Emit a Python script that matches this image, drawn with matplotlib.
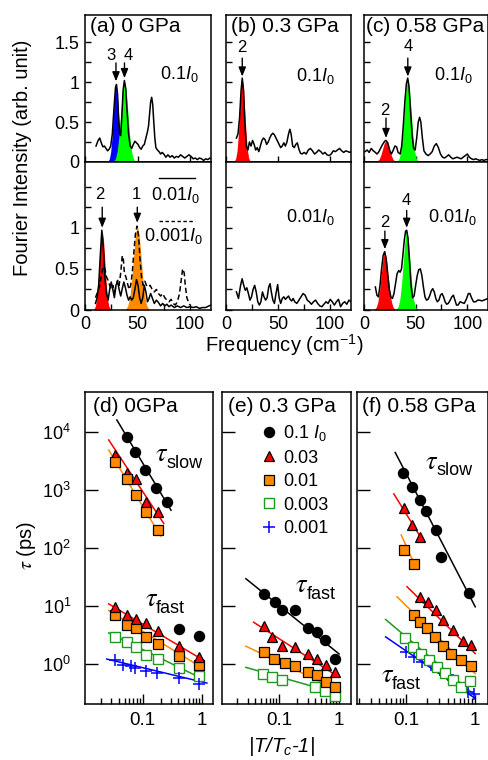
import matplotlib
matplotlib.use("Agg")
import matplotlib.pyplot as plt
from matplotlib.lines import Line2D
from matplotlib.ticker import FixedLocator, NullLocator, LogLocator, NullFormatter

plt.rcParams['font.family'] = ['Liberation Sans', 'DejaVu Sans']
plt.rcParams['mathtext.fontset'] = 'custom'
plt.rcParams['mathtext.rm'] = 'Liberation Sans'
plt.rcParams['mathtext.it'] = 'Liberation Sans:italic'
plt.rcParams['mathtext.bf'] = 'Liberation Sans:bold'
plt.rcParams['axes.linewidth'] = 1.1

# ---------------- spectra (Fourier intensity vs frequency, cm-1) ----------------
a_hi_f = [10.5, 12.5, 14, 15.5, 17, 18.5, 20, 21.5, 23, 24.5, 26, 27.5, 29, 30, 31, 32, 33, 34, 35,
          36.3, 37.5, 38.8, 40, 41.5, 43, 44.5, 46, 47.5, 49, 50.5, 52, 53.5, 55, 56.5, 58, 59.5,
          60.5, 61.5, 62.5, 63.5, 64.5, 65.5, 66.5, 67.5, 69, 70.5, 72, 73.5, 75, 77, 79, 81, 83,
          85, 87, 89, 91, 93, 95, 97, 99, 101, 103, 105, 107, 109, 111, 113, 115, 117, 119, 120]
a_hi_i = [0.2, 0.27, 0.3, 0.24, 0.19, 0.2, 0.17, 0.14, 0.16, 0.2, 0.35, 0.65, 0.93, 0.97, 0.85,
          0.55, 0.35, 0.33, 0.55, 0.9, 1.02, 0.92, 0.65, 0.35, 0.2, 0.17, 0.22, 0.26, 0.24, 0.22,
          0.18, 0.16, 0.2, 0.22, 0.3, 0.38, 0.45, 0.6, 0.75, 0.81, 0.72, 0.5, 0.3, 0.18, 0.15, 0.13,
          0.1, 0.12, 0.1, 0.06, 0.09, 0.06, 0.08, 0.05, 0.07, 0.06, 0.09, 0.07, 0.05, 0.07, 0.09,
          0.07, 0.04, 0.05, 0.03, 0.05, 0.04, 0.02, 0.04, 0.03, 0.05, 0.04]

a_lo_f = [10, 11.5, 13, 14.5, 16, 17.5, 19, 20.5, 22, 23.5, 25, 26.5, 28, 29.5, 31, 32.5, 34, 35.5,
          37, 38.5, 40, 41.5, 43, 44.5, 46, 47.5, 49, 50.5, 52, 53.5, 55, 56.5, 58, 59.5, 61, 62.5,
          64, 66, 68, 70, 72, 74, 76, 78, 80, 82, 85, 88, 91, 94, 97, 100, 103, 106, 109, 112, 115,
          118, 120]
a_lo_i = [0.08, 0.15, 0.3, 0.65, 0.97, 0.75, 0.38, 0.2, 0.12, 0.25, 0.34, 0.25, 0.15, 0.3, 0.35,
          0.25, 0.17, 0.26, 0.34, 0.27, 0.18, 0.12, 0.16, 0.12, 0.15, 0.25, 0.37, 0.3, 0.15, 0.08,
          0.15, 0.3, 0.22, 0.1, 0.14, 0.2, 0.15, 0.08, 0.12, 0.09, 0.05, 0.08, 0.05, 0.07, 0.04,
          0.06, 0.03, 0.05, 0.03, 0.05, 0.03, 0.04, 0.03, 0.04, 0.02, 0.03, 0.03, 0.05, 0.06]

a_lo2_f = [10, 12, 14, 16, 17.5, 19, 20.5, 22, 23.5, 25, 26.5, 28, 29.5, 31, 32.5, 34, 35.5, 36.5,
           37.5, 39, 40.5, 42, 43.5, 45, 46.5, 48, 49.5, 51, 52.5, 54, 55.5, 57, 58.5, 60, 62, 64,
           66, 68, 70, 72, 74, 76, 78, 80, 82, 84, 86, 88, 90, 91.5, 93, 94.5, 95.5, 97, 99, 100]
a_lo2_i = [0.15, 0.22, 0.3, 0.45, 0.53, 0.5, 0.4, 0.36, 0.3, 0.25, 0.3, 0.22, 0.28, 0.36, 0.3,
           0.45, 0.66, 0.62, 0.45, 0.4, 0.32, 0.25, 0.3, 0.45, 0.7, 0.92, 1.02, 0.9, 0.6, 0.38,
           0.3, 0.35, 0.3, 0.28, 0.3, 0.25, 0.22, 0.25, 0.2, 0.17, 0.2, 0.15, 0.12, 0.1, 0.13,
           0.08, 0.06, 0.1, 0.2, 0.35, 0.5, 0.45, 0.3, 0.15, 0.08, 0.06]

b_hi_f = [10, 11.5, 13, 14.5, 15.6, 16.8, 18, 19.5, 21, 22.5, 24, 25.5, 27, 28.5, 30, 31.5, 33,
          34.5, 36, 37.5, 39, 40.5, 42, 43.5, 45, 46.5, 48, 49.5, 51, 52.5, 54, 55.5, 57, 58.5, 60,
          61.3, 62.5, 64, 65.5, 67, 68.5, 70, 71.5, 73, 75, 77, 79, 81, 83, 85, 87, 89, 91, 93, 95,
          97, 99, 101, 103, 105, 107, 109, 111, 113, 115, 117, 119, 120]
b_hi_i = [0.3, 0.35, 0.55, 0.9, 1.05, 0.9, 0.5, 0.2, 0.15, 0.25, 0.2, 0.27, 0.22, 0.15, 0.18,
          0.13, 0.2, 0.27, 0.3, 0.28, 0.22, 0.25, 0.3, 0.34, 0.36, 0.34, 0.3, 0.26, 0.22, 0.18,
          0.2, 0.24, 0.2, 0.25, 0.35, 0.41, 0.35, 0.2, 0.18, 0.22, 0.24, 0.16, 0.11, 0.1, 0.12,
          0.1, 0.15, 0.17, 0.14, 0.1, 0.12, 0.15, 0.13, 0.1, 0.12, 0.09, 0.08, 0.1, 0.14, 0.13,
          0.15, 0.17, 0.14, 0.12, 0.14, 0.13, 0.12, 0.13]

b_lo_f = [10, 12, 14, 15.5, 17, 18.5, 20, 21.5, 23, 24.5, 26, 27.5, 29, 30.5, 32, 33.5, 35, 36.5,
          38, 39.5, 41, 42.3, 43.5, 45, 46.5, 48, 49.6, 51, 52.5, 54, 55.5, 57, 58.5, 60, 61.5, 63,
          64.5, 66, 68, 70, 72, 74, 76, 78, 80, 82, 84, 86, 88, 90, 92, 94, 96, 98, 100, 102, 104,
          106, 108, 110, 112, 114, 116, 118, 120]
b_lo_i = [0.22, 0.14, 0.3, 0.38, 0.3, 0.24, 0.27, 0.2, 0.12, 0.16, 0.25, 0.3, 0.22, 0.1, 0.06,
          0.1, 0.22, 0.16, 0.12, 0.15, 0.28, 0.32, 0.22, 0.12, 0.08, 0.2, 0.31, 0.15, 0.08, 0.14,
          0.16, 0.13, 0.15, 0.17, 0.13, 0.11, 0.14, 0.1, 0.08, 0.12, 0.16, 0.2, 0.18, 0.12, 0.1,
          0.07, 0.1, 0.12, 0.08, 0.05, 0.04, 0.07, 0.1, 0.08, 0.13, 0.1, 0.06, 0.1, 0.13, 0.04,
          0.08, 0.1, 0.07, 0.12, 0.1]

c_hi_f = [1, 3, 5, 7, 9, 11, 12.5, 14, 16, 18, 20, 21.3, 23, 25, 26.5, 28, 30, 31.5, 33, 35, 36.5,
          38, 39.5, 41, 42.3, 43.5, 45, 46.5, 48, 49.5, 51, 52.5, 53.8, 55, 56.5, 58, 60, 62, 64,
          66, 68, 70, 72, 74, 76, 78, 80, 82, 84, 86, 88, 90, 92, 94, 96, 98, 100, 102, 104, 106,
          108, 110, 112, 114, 116, 118, 120]
c_hi_i = [0.13, 0.15, 0.12, 0.17, 0.14, 0.12, 0.1, 0.12, 0.17, 0.22, 0.26, 0.27, 0.24, 0.14, 0.1,
          0.14, 0.2, 0.19, 0.12, 0.1, 0.2, 0.45, 0.75, 0.98, 1.05, 0.95, 0.65, 0.35, 0.17, 0.15,
          0.3, 0.5, 0.56, 0.5, 0.3, 0.14, 0.1, 0.08, 0.1, 0.13, 0.2, 0.23, 0.18, 0.1, 0.06, 0.05,
          0.07, 0.09, 0.06, 0.04, 0.05, 0.06, 0.05, 0.04, 0.06, 0.08, 0.1, 0.06, 0.04, 0.03, 0.04,
          0.03, 0.02, 0.03, 0.02, 0.03, 0.03]

c_lo_f = [11, 12.5, 14, 15.5, 17, 18.5, 20, 21.5, 23, 24.5, 26, 27.5, 29, 30.5, 32, 33.6, 35, 36.3,
          37.5, 39, 40.3, 41.3, 42.5, 44, 45.5, 47, 48.5, 50, 51.5, 53, 54.5, 56, 57.5, 59, 60.5, 62,
          63.5, 65, 66.5, 68, 69.5, 71, 72.5, 74, 75.5, 77, 78.5, 80, 81.5, 83, 85, 86.5, 88, 89.5,
          91, 93, 95, 97, 99, 101, 102.5, 104, 106, 108, 110, 112, 114, 116, 118, 120]
c_lo_i = [0.28, 0.18, 0.16, 0.3, 0.5, 0.66, 0.71, 0.62, 0.42, 0.25, 0.16, 0.14, 0.2, 0.32, 0.44,
          0.48, 0.46, 0.5, 0.65, 0.85, 0.96, 0.97, 0.88, 0.6, 0.3, 0.15, 0.17, 0.3, 0.42, 0.49,
          0.5, 0.42, 0.28, 0.16, 0.12, 0.13, 0.17, 0.23, 0.26, 0.22, 0.14, 0.1, 0.12, 0.18, 0.2,
          0.16, 0.1, 0.07, 0.08, 0.11, 0.16, 0.18, 0.12, 0.06, 0.06, 0.1, 0.09, 0.08, 0.13, 0.2,
          0.2, 0.15, 0.1, 0.1, 0.12, 0.12, 0.11, 0.12, 0.13, 0.14]

# fitted mode peaks (filled)
a_m3_f = [22.0, 23.25, 24.5, 25.75, 27.0, 28.25, 29.5, 30.75, 32.0, 33.25, 34.5, 35.75, 37.0]
a_m3_i = [0.011, 0.043, 0.131, 0.315, 0.588, 0.856, 0.97, 0.856, 0.588, 0.315, 0.131, 0.043, 0.011]
a_m4_f = [27.3, 29.0, 30.7, 32.4, 34.1, 35.8, 37.5, 39.2, 40.9, 42.6, 44.3, 46.0, 47.7]
a_m4_i = [0.011, 0.045, 0.138, 0.331, 0.619, 0.900, 1.02, 0.900, 0.619, 0.331, 0.138, 0.045, 0.011]
a_m2_f = [8.5, 9.8, 11.1, 12.4, 13.7, 15.0, 16.3, 17.6, 18.9, 20.2, 21.5, 22.8, 24.1]
a_m2_i = [0.011, 0.043, 0.131, 0.315, 0.588, 0.856, 0.97, 0.856, 0.588, 0.315, 0.131, 0.043, 0.011]
a_m1_f = [38.7, 40.55, 42.4, 44.25, 46.1, 47.95, 49.8, 51.65, 53.5, 55.35, 57.2, 59.05, 60.9]
a_m1_i = [0.011, 0.045, 0.139, 0.334, 0.625, 0.909, 1.03, 0.909, 0.625, 0.334, 0.139, 0.045, 0.011]
b_m2_f = [8.1, 9.35, 10.6, 11.85, 13.1, 14.35, 15.6, 16.85, 18.1, 19.35, 20.6, 21.85, 23.1]
b_m2_i = [0.012, 0.046, 0.141, 0.338, 0.631, 0.918, 1.04, 0.918, 0.631, 0.338, 0.141, 0.046, 0.012]
c_hi_m2_f = [11.4, 13.05, 14.7, 16.35, 18.0, 19.65, 21.3, 22.95, 24.6, 26.25, 27.9, 29.55, 31.2]
c_hi_m2_i = [0.003, 0.012, 0.037, 0.088, 0.164, 0.238, 0.27, 0.238, 0.164, 0.088, 0.037, 0.012, 0.003]
c_hi_m4_f = [32.4, 34.05, 35.7, 37.35, 39.0, 40.65, 42.3, 43.95, 45.6, 47.25, 48.9, 50.55, 52.2]
c_hi_m4_i = [0.012, 0.046, 0.142, 0.341, 0.637, 0.927, 1.05, 0.927, 0.637, 0.341, 0.142, 0.046, 0.012]
c_lo_m2_f = [10.1, 11.75, 13.4, 15.05, 16.7, 18.35, 20.0, 21.65, 23.3, 24.95, 26.6, 28.25, 29.9]
c_lo_m2_i = [0.008, 0.031, 0.096, 0.231, 0.431, 0.627, 0.71, 0.627, 0.431, 0.231, 0.096, 0.031, 0.008]
c_lo_m4_f = [31.4, 33.05, 34.7, 36.35, 38.0, 39.65, 41.3, 42.95, 44.6, 46.25, 47.9, 49.55, 51.2]
c_lo_m4_i = [0.011, 0.043, 0.131, 0.315, 0.588, 0.856, 0.97, 0.856, 0.588, 0.315, 0.131, 0.043, 0.011]

# ---------------- relaxation times tau (ps) vs |T/Tc-1| ----------------
# (d) 0 GPa
d_x5 = [0.034, 0.054, 0.077, 0.113, 0.178]
d_x7 = [0.034, 0.054, 0.077, 0.113, 0.178, 0.405, 0.88]
d_circ_slow_x = [0.054, 0.076, 0.109, 0.165, 0.259]
d_circ_slow = [8200, 4600, 2230, 1100, 630]
d_circ_fast_x = [0.405, 0.88]
d_circ_fast = [3.9, 3.06]
d_tri_slow = [4050, 2000, 1550, 630, 420]
d_sq_slow = [3100, 1550, 820, 420, 203]
d_tri_fast = [9.5, 6.8, 5.8, 5.0, 3.6, 2.05, 1.32]
d_sq_fast = [6.8, 4.6, 4.15, 2.86, 2.2, 1.38, 0.96]
d_open_fast = [2.86, 2.4, 1.92, 1.43, 1.2, 0.83, 0.60]
d_plus_x = [0.034, 0.047, 0.063, 0.076, 0.112, 0.176, 0.405, 0.88]
d_plus = [1.15, 0.95, 0.92, 0.83, 0.74, 0.68, 0.57, 0.45]
d_fits = {'k': ([0.037, 0.30], [16400, 450]),
          'r1': ([0.027, 0.227], [7400, 265]),
          'o1': ([0.027, 0.20], [4950, 162]),
          'r2': ([0.027, 1.07], [10.8, 1.13]),
          'o2': ([0.027, 1.07], [8.3, 0.81]),
          'g': ([0.027, 1.07], [3.4, 0.53]),
          'b': ([0.025, 1.2], [1.2, 0.46])}

# (e) 0.3 GPa
e_circ_x = [0.057, 0.084, 0.111, 0.186, 0.30, 0.43, 0.59, 0.84]
e_circ = [16.1, 11.6, 8.6, 8.6, 4.1, 3.5, 2.6, 1.2]
e_tri_x = [0.057, 0.076, 0.111, 0.186, 0.30, 0.43, 0.60, 0.86]
e_tri = [4.56, 2.86, 2.0, 1.92, 1.47, 1.2, 0.95, 0.71]
e_sq_x = [0.057, 0.081, 0.124, 0.186, 0.30, 0.43, 0.60, 0.86]
e_sq = [1.57, 1.2, 1.03, 0.90, 0.71, 0.64, 0.49, 0.39]
e_open_x = [0.055, 0.076, 0.114, 0.40, 0.59, 0.86]
e_open = [0.66, 0.58, 0.53, 0.40, 0.33, 0.27]
e_fits = {'k': ([0.028, 1.0], [29.4, 1.47]),
          'r2': ([0.0376, 1.0], [5.2, 0.58]),
          'o2': ([0.028, 1.0], [2.0, 0.34]),
          'g': ([0.028, 1.0], [0.86, 0.30])}

# (f) 0.58 GPa
f_circ_x = [0.089, 0.122, 0.156, 0.195, 0.266, 0.315, 0.83]
f_circ = [2020, 1130, 680, 444, 205, 71, 16.4]
f_tri_slow_x = [0.0914, 0.122, 0.16]
f_tri_slow = [488, 250, 157]
f_sq_slow_x = [0.0914, 0.128]
f_sq_slow = [92, 53]
f_tri_fast_x = [0.156, 0.206, 0.266, 0.34, 0.474, 0.66, 0.875]
f_tri_fast = [14.3, 11.7, 8.4, 5.6, 3.8, 2.5, 2.08]
f_sq_fast_x = [0.128, 0.156, 0.20, 0.258, 0.34, 0.449, 0.627, 0.875]
f_sq_fast = [6.9, 5.3, 4.2, 2.9, 2.0, 1.49, 1.14, 0.90]
f_open_x = [0.0946, 0.125, 0.165, 0.213, 0.278, 0.36, 0.474, 0.627, 0.85]
f_open = [2.82, 1.95, 1.49, 1.17, 0.875, 0.69, 0.53, 0.40, 0.50]
f_plus_x = [0.098, 0.128, 0.171, 0.23, 0.304, 0.40, 0.56, 0.78, 0.98]
f_plus = [1.59, 1.31, 1.07, 0.94, 0.77, 0.63, 0.45, 0.32, 0.30]
f_fits = {'k': ([0.0686, 1.01], [4500, 9.6]),
          'r1': ([0.0655, 0.171], [864, 137]),
          'o1': ([0.084, 0.132], [168, 51]),
          'r2': ([0.102, 1.01], [21.4, 1.49]),
          'o2': ([0.073, 1.01], [14.3, 0.67]),
          'g': ([0.0497, 1.01], [5.8, 0.28]),
          'b': ([0.0497, 1.01], [2.9, 0.25])}

legend_labels = ['0.1 $I_0$', '0.03', '0.01', '0.003', '0.001']

RED = '#ff0000'
ORANGE = '#ff8a00'
GREEN_FILL = '#00ff00'
GREEN = '#1f9a1f'
BLUE = '#0000ff'
fit_colors = {'k': 'black', 'r1': RED, 'r2': RED, 'o1': ORANGE, 'o2': ORANGE, 'g': GREEN, 'b': BLUE}

W, H = 489, 760
fig = plt.figure(figsize=(W / 100, H / 100), dpi=100)


def px_axes(x0, y0, x1, y1):
    return fig.add_axes([x0 / W, 1 - y1 / H, (x1 - x0) / W, (y1 - y0) / H])


def style_spec(ax, top, lower, first):
    ax.set_xlim(0, 120)
    ax.set_ylim(0, top)
    ax.xaxis.set_major_locator(FixedLocator([0, 50, 100]))
    if lower:
        ax.xaxis.set_minor_locator(FixedLocator([25, 75]))
    ax.set_xticklabels(['0', '50', '100'])
    ax.yaxis.set_major_locator(FixedLocator([0, 0.5, 1, 1.5]))
    ax.yaxis.set_minor_locator(FixedLocator([0.25, 0.75, 1.25]))
    ax.set_yticklabels(['0', '0.5', '1', '' if lower else '1.5'])
    ax.tick_params(which='both', direction='in', length=4.5, width=1, top=False, right=False,
                   labelsize=13, pad=4)
    ax.tick_params(labelbottom=lower, labelleft=first)


def spectrum(ax, f, i, **kw):
    ax.plot(f, i, color='black', lw=1.1, zorder=3, **kw)


def mode(ax, f, i, color):
    ax.fill_between(f, 0, i, color=color, lw=0, zorder=2)


def arrow(ax, x, y_tip, y_tail, label, lx, ly):
    ax.annotate('', xy=(x, y_tip), xytext=(x, y_tail),
                arrowprops=dict(arrowstyle='-|>,head_length=0.55,head_width=0.22',
                                color='black', lw=1, shrinkA=0, shrinkB=0), zorder=4)
    ax.text(lx, ly, label, ha='center', va='center', fontsize=12)


def title(ax, s, x=0.04):
    ax.text(x, 0.985, s, transform=ax.transAxes, ha='left', va='top', fontsize=15)


# ---- (a) ----
ax = px_axes(85, 15, 211, 162)
style_spec(ax, 1.84, False, True)
mode(ax, a_m3_f, a_m3_i, BLUE)
mode(ax, a_m4_f, a_m4_i, GREEN_FILL)
spectrum(ax, a_hi_f, a_hi_i)
arrow(ax, 29.5, 1.01, 1.24, '3', 25, 1.33)
arrow(ax, 37.6, 1.05, 1.24, '4', 41, 1.33)
title(ax, '(a) 0 GPa')
ax.text(90, 1.1, '0.1$I_0$', ha='center', va='center', fontsize=13)

ax = px_axes(85, 162, 211, 310)
style_spec(ax, 1.80, True, True)
mode(ax, a_m2_f, a_m2_i, RED)
mode(ax, a_m1_f, a_m1_i, ORANGE)
spectrum(ax, a_lo2_f, a_lo2_i, ls=(0, (3.5, 2)))
spectrum(ax, a_lo_f, a_lo_i)
arrow(ax, 16.4, 1.0, 1.25, '2', 14.5, 1.4)
arrow(ax, 49.8, 1.06, 1.25, '1', 48.5, 1.4)
ax.plot([70.5, 104.8], [1.6, 1.6], color='black', lw=1)
ax.text(86, 1.4, '0.01$I_0$', ha='center', va='center', fontsize=13)
ax.plot([70, 105], [1.085, 1.085], color='black', lw=1, ls=(0, (2.5, 1.8)))
ax.text(84, 0.9, '0.001$I_0$', ha='center', va='center', fontsize=13)

# ---- (b) ----
ax = px_axes(226, 15, 351, 162)
style_spec(ax, 1.84, False, False)
mode(ax, b_m2_f, b_m2_i, RED)
spectrum(ax, b_hi_f, b_hi_i)
arrow(ax, 15.6, 1.07, 1.3, '2', 15.6, 1.43)
title(ax, '(b) 0.3 GPa')
ax.text(86, 1.08, '0.1$I_0$', ha='center', va='center', fontsize=13)

ax = px_axes(226, 162, 351, 310)
style_spec(ax, 1.80, True, False)
spectrum(ax, b_lo_f, b_lo_i)
ax.text(81, 1.13, '0.01$I_0$', ha='center', va='center', fontsize=13)

# ---- (c) ----
ax = px_axes(364, 15, 488, 162)
style_spec(ax, 1.84, False, False)
mode(ax, c_hi_m2_f, c_hi_m2_i, RED)
mode(ax, c_hi_m4_f, c_hi_m4_i, GREEN_FILL)
spectrum(ax, c_hi_f, c_hi_i)
arrow(ax, 21.3, 0.3, 0.55, '2', 20.6, 0.65)
arrow(ax, 42.4, 1.07, 1.3, '4', 42.8, 1.44)
title(ax, '(c) 0.58 GPa', 0.02)
ax.text(86, 1.09, '0.1$I_0$', ha='center', va='center', fontsize=13)

ax = px_axes(364, 162, 488, 310)
style_spec(ax, 1.80, True, False)
mode(ax, c_lo_m2_f, c_lo_m2_i, RED)
mode(ax, c_lo_m4_f, c_lo_m4_i, GREEN_FILL)
spectrum(ax, c_lo_f, c_lo_i)
arrow(ax, 20.2, 0.74, 0.96, '2', 20.2, 1.07)
arrow(ax, 41.3, 1.0, 1.21, '4', 40.5, 1.33)
ax.text(85, 1.13, '0.01$I_0$', ha='center', va='center', fontsize=13)

fig.text(23 / W, 1 - 158 / H, 'Fourier Intensity (arb. unit)', rotation=90,
         ha='center', va='center', fontsize=14.5)
fig.text(284 / W, 1 - 345 / H, 'Frequency (cm$^{-1}$)', ha='center', va='center', fontsize=14.5)

# ---------------- lower panels ----------------
circ_kw = dict(ls='none', marker='o', ms=7.2, mfc='black', mec='black', zorder=4)
tri_kw = dict(ls='none', marker='^', ms=7.8, mfc=RED, mec='black', mew=0.9, zorder=4)
sq_kw = dict(ls='none', marker='s', ms=7.2, mfc=ORANGE, mec='black', mew=0.9, zorder=4)
open_kw = dict(ls='none', marker='s', ms=7.2, mfc='white', mec=GREEN, mew=1.0, zorder=4)
plus_kw = dict(ls='none', marker='+', ms=8.5, mec=BLUE, mew=1.1, zorder=4)


def style_tau(ax, xlim, first):
    ax.set_xscale('log')
    ax.set_yscale('log')
    ax.set_xlim(*xlim)
    ax.set_ylim(0.2, 5e4)
    ax.xaxis.set_major_locator(FixedLocator([0.1, 1]))
    ax.set_xticklabels(['0.1', '1'])
    ax.xaxis.set_minor_locator(LogLocator(base=10, subs=range(2, 10)))
    ax.xaxis.set_minor_formatter(NullFormatter())
    ax.yaxis.set_major_locator(FixedLocator([1, 10, 100, 1000, 10000]))
    ax.yaxis.set_minor_locator(NullLocator())
    ax.set_yticklabels(['$10^0$', '$10^1$', '$10^2$', '$10^3$', '$10^4$'])
    ax.tick_params(axis='y', which='major', direction='in', length=9, width=1, right=False,
                   labelsize=13, pad=10, labelleft=first)
    ax.tick_params(axis='x', which='major', direction='in', length=7, width=1, top=False,
                   labelsize=13.5, pad=6)
    ax.tick_params(axis='x', which='minor', direction='in', length=4, width=1, top=False)


def fits(ax, table):
    for key, (xs, ys) in table.items():
        ax.plot(xs, ys, color=fit_colors[key], lw=1.1, zorder=3)


def tau_text(ax, x, y, sub):
    t = ax.text(x, y, r'$\tau$', transform=ax.transAxes, ha='center', va='center',
                fontsize=19, math_fontfamily='stix')
    ax.annotate(sub, xy=(1, 0), xycoords=t, xytext=(-1.5, -4), textcoords='offset points',
                ha='left', va='bottom', fontsize=13)


# (d)
ax = px_axes(85, 392, 213, 704)
style_tau(ax, (0.0108, 1.52), True)
fits(ax, d_fits)
ax.plot(d_circ_slow_x, d_circ_slow, **circ_kw)
ax.plot(d_circ_fast_x, d_circ_fast, **circ_kw)
ax.plot(d_x5, d_tri_slow, **tri_kw)
ax.plot(d_x5, d_sq_slow, **sq_kw)
ax.plot(d_x7, d_open_fast, **open_kw)
ax.plot(d_plus_x, d_plus, **plus_kw)
ax.plot(d_x7, d_sq_fast, **sq_kw)
ax.plot(d_x7, d_tri_fast, **tri_kw)
title(ax, '(d) 0GPa', 0.06)
tau_text(ax, 0.60, 0.80, 'slow')
tau_text(ax, 0.52, 0.335, 'fast')

# (e)
ax = px_axes(222, 392, 351, 704)
style_tau(ax, (0.0112, 1.58), False)
fits(ax, e_fits)
ax.plot(e_circ_x, e_circ, **circ_kw)
ax.plot(e_open_x, e_open, **open_kw)
ax.plot(e_sq_x, e_sq, **sq_kw)
ax.plot(e_tri_x, e_tri, **tri_kw)
title(ax, '(e) 0.3 GPa', 0.05)
tau_text(ax, 0.62, 0.38, 'fast')
handles = [Line2D([], [], **circ_kw), Line2D([], [], **tri_kw), Line2D([], [], **sq_kw),
           Line2D([], [], **open_kw), Line2D([], [], **plus_kw)]
ax.legend(handles, legend_labels, loc='upper left', bbox_to_anchor=(0.31, 0.9), frameon=False,
          fontsize=13, handlelength=0.8, handletextpad=0.35, labelspacing=0.36, borderpad=0,
          borderaxespad=0)

# (f)
ax = px_axes(357, 392, 488, 704)
style_tau(ax, (0.019, 1.55), False)
fits(ax, f_fits)
ax.plot(f_circ_x, f_circ, **circ_kw)
ax.plot(f_plus_x, f_plus, **plus_kw)
ax.plot(f_open_x, f_open, **open_kw)
ax.plot(f_sq_slow_x, f_sq_slow, **sq_kw)
ax.plot(f_sq_fast_x, f_sq_fast, **sq_kw)
ax.plot(f_tri_slow_x, f_tri_slow, **tri_kw)
ax.plot(f_tri_fast_x, f_tri_fast, **tri_kw)
title(ax, '(f) 0.58 GPa', 0.04)
tau_text(ax, 0.57, 0.777, 'slow')
tau_text(ax, 0.23, 0.093, 'fast')

fig.text(27 / W, 1 - 545 / H, r'$\tau$ (ps)', rotation=90, ha='center', va='center',
         fontsize=14.5, math_fontfamily='stix')
fig.text(281 / W, 1 - 746 / H, '|T/T$_c$-1|', style='italic', ha='center', va='center',
         fontsize=14.5)

fig.savefig('out.png', dpi=100)
